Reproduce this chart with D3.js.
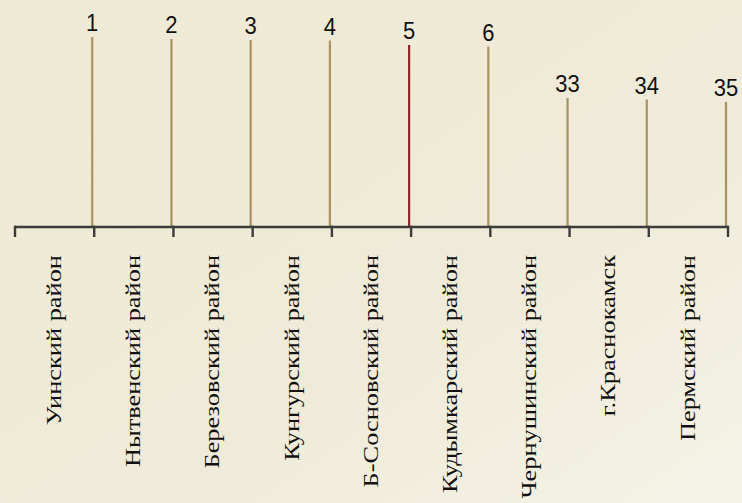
<!DOCTYPE html>
<html lang="ru">
 <head>
 <meta charset="UTF-8">
        <title>Районы</title>
        <script type="text/javascript" src="https://unpkg.com/d3@7/dist/d3.min.js"></script>
        <style>
          body { margin: 0; }
        </style>
 </head>

 <body>
        <script type="text/javascript">

          // data
          var districts = ["Уинский район", "Нытвенский район", "Березовский район", "Кунгурский район",
                           "Б-Сосновский район", "Кудымкарский район", "Чернушинский район",
                           "г.Краснокамск", "Пермский район"];
          var ranks  = [1, 2, 3, 4, 5, 6, 33, 34, 35];
          var values = [190, 188, 187, 186.5, 182, 180.5, 129, 127.5, 125];
          var highlighted = "Б-Сосновский район";

          var width = 742;
          var height = 503;
          var baseY = 227;

          var svg = d3.select("body")
                      .append("svg")
                      .attr("width", width)
                      .attr("height", height);

          var defs = svg.append("defs");
          var grad = defs.append("linearGradient")
                         .attr("id", "bg")
                         .attr("x1", "0").attr("y1", "0")
                         .attr("x2", "1").attr("y2", "1");
          grad.append("stop").attr("offset", "0").attr("stop-color", "#eeead5");
          grad.append("stop").attr("offset", "0.6").attr("stop-color", "#efebd8");
          grad.append("stop").attr("offset", "1").attr("stop-color", "#f5f3e8");

          svg.append("rect")
             .attr("width", width)
             .attr("height", height)
             .attr("fill", "url(#bg)");

          var x = d3.scaleBand()
                    .domain(districts)
                    .range([15, 728])
                    .padding(0);

          var y = d3.scaleLinear()
                    .domain([0, 200])
                    .range([baseY, baseY - 200]);

          var rows = districts.map( (d, i) => ({ name: d, rank: ranks[i], value: values[i] }) );

          // stems sit on the right edge of each band
          var stemX = (d) => x(d.name) + x.bandwidth() - 2;

          svg.selectAll("line.stem")
             .data(rows)
             .enter()
             .append("line")
             .attr("class", "stem")
             .attr("x1", stemX)
             .attr("x2", stemX)
             .attr("y1", y(0))
             .attr("y2", (d) => y(d.value))
             .style("stroke", (d) => d.name === highlighted ? "#8e2a2c" : "#a8935f")
             .style("stroke-width", 2.2);

          svg.selectAll("text.rank")
             .data(rows)
             .enter()
             .append("text")
             .attr("class", "rank")
             .attr("transform", (d) => "translate(" + stemX(d) + "," + (y(d.value) - 6) + ") scale(1,1.12)")
             .attr("text-anchor", "middle")
             .style("font-family", "Liberation Sans, Arial, sans-serif")
             .style("font-size", "22px")
             .style("fill", "#111")
             .text((d) => d.rank);

          // category labels
          var axis = svg.append("g")
                        .attr("transform", "translate(0," + baseY + ")")
                        .call(d3.axisBottom(x).tickSize(0).tickPadding(0));

          axis.select(".domain").remove();

          axis.selectAll(".tick text")
              .attr("y", 0)
              .attr("dy", 0)
              .attr("transform", "translate(-1,28) rotate(-90) scale(1.2,1)")
              .attr("x", 0)
              .attr("dy", "0.33em")
              .attr("text-anchor", "end")
              .style("font-family", "Liberation Serif, Times New Roman, serif")
              .style("font-size", "22px")
              .style("fill", "#111");

          // axis line with ticks at band edges
          var edges = districts.map((d) => x(d)).concat([x.range()[1]]);

          svg.append("line")
             .attr("x1", x.range()[0])
             .attr("x2", x.range()[1])
             .attr("y1", baseY)
             .attr("y2", baseY)
             .style("stroke", "#3c3c3a")
             .style("stroke-width", 2.6);

          svg.selectAll("line.edge")
             .data(edges)
             .enter()
             .append("line")
             .attr("class", "edge")
             .attr("x1", (d) => d)
             .attr("x2", (d) => d)
             .attr("y1", baseY - 1.3)
             .attr("y2", baseY + 10)
             .style("stroke", "#3c3c3a")
             .style("stroke-width", 2.4);

        </script>
    </body>
</html>
